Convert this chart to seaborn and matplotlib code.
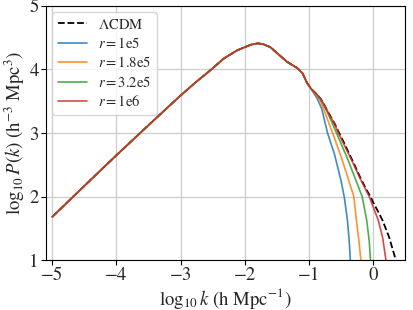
import numpy as np
import pandas as pd
import matplotlib
matplotlib.use("Agg")
import matplotlib.pyplot as plt
import seaborn as sns

sns.set_style("whitegrid")
plt.rcParams['font.family'] = ['STIXGeneral', 'DejaVu Serif']
plt.rcParams['mathtext.fontset'] = 'stix'

# log10 k and log10 P(k)
lcdm_x = [-5.0, -4.6, -4.26, -4.0, -3.63, -3.3, -3.0, -2.75, -2.52, -2.33, -2.12,
          -2.0, -1.9, -1.8, -1.72, -1.6, -1.5, -1.42, -1.34, -1.26, -1.18, -1.1,
          -1.03, -0.97, -0.92, -0.87, -0.82, -0.77, -0.72, -0.6, -0.53, -0.45,
          -0.3, -0.2, -0.1, -0.04, 0.0, 0.08, 0.15, 0.25, 0.355, 0.38]
lcdm_y = [1.68, 2.07, 2.40, 2.65, 3.0, 3.31, 3.59, 3.81, 4.0, 4.17, 4.30,
          4.35, 4.39, 4.41, 4.40, 4.35, 4.26, 4.19, 4.12, 4.07, 4.02, 3.94,
          3.79, 3.70, 3.65, 3.60, 3.54, 3.46, 3.36, 3.15, 3.0, 2.84,
          2.52, 2.3, 2.1, 2.0, 1.91, 1.76, 1.62, 1.36, 1.0, 0.93]

# cutoff tails; before lcdm_x[head_n] every run follows LCDM
head_n = 24
tail_1e5_x = [-0.92, -0.87, -0.8, -0.71, -0.6, -0.5, -0.45, -0.4, -0.37, -0.355, -0.35]
tail_1e5_y = [3.62, 3.54, 3.38, 3.0, 2.66, 2.25, 2.0, 1.63, 1.28, 1.0, 0.9]
tail_18e5_x = [-0.92, -0.87, -0.82, -0.75, -0.63, -0.5, -0.4, -0.3, -0.26, -0.22, -0.19, -0.185]
tail_18e5_y = [3.64, 3.58, 3.5, 3.32, 3.0, 2.63, 2.32, 2.0, 1.63, 1.3, 1.0, 0.9]
tail_32e5_x = [-0.92, -0.87, -0.82, -0.77, -0.7, -0.57, -0.4, -0.3, -0.17, -0.1, -0.06, -0.04, -0.035]
tail_32e5_y = [3.65, 3.6, 3.53, 3.44, 3.3, 3.0, 2.6, 2.34, 2.0, 1.63, 1.3, 1.0, 0.9]
tail_1e6_x = [-0.92, -0.87, -0.82, -0.77, -0.72, -0.6, -0.54, -0.3, -0.2, -0.06, 0.08, 0.15, 0.2, 0.21]
tail_1e6_y = [3.65, 3.6, 3.54, 3.46, 3.36, 3.14, 3.0, 2.5, 2.28, 2.0, 1.63, 1.35, 1.0, 0.9]

runs = [('$r=$1e5', tail_1e5_x, tail_1e5_y, '#1f77b4'),
        ('$r=$1.8e5', tail_18e5_x, tail_18e5_y, '#ff7f0e'),
        ('$r=$3.2e5', tail_32e5_x, tail_32e5_y, '#2ca02c'),
        ('$r=$1e6', tail_1e6_x, tail_1e6_y, '#d62728')]

fig = plt.figure(figsize=(4.13, 3.10), dpi=100)
ax = fig.add_axes([0.111, 0.161, 0.870, 0.820])

df = pd.DataFrame({'x': lcdm_x, 'y': lcdm_y})
sns.lineplot(data=df, x='x', y='y', ax=ax, color='black', ls='--', lw=1.3,
             sort=False, label=r'$\Lambda$CDM')
for label, tx, ty, col in runs:
    d = pd.DataFrame({'x': lcdm_x[:head_n] + tx, 'y': lcdm_y[:head_n] + ty})
    sns.lineplot(data=d, x='x', y='y', ax=ax, color=col, lw=1.2, alpha=0.85,
                 sort=False, label=label)

ax.set_xlim(-5.1, 0.5)
ax.set_ylim(1, 5)
ax.set_xticks([-5, -4, -3, -2, -1, 0])
ax.set_yticks([1, 2, 3, 4, 5])
ax.set_xlabel(r'$\log_{10}k$ (h Mpc$^{-1}$)', fontsize=13.5, labelpad=1)
ax.set_ylabel(r'$\log_{10}P(k)$ (h$^{-3}$ Mpc$^{3}$)', fontsize=13.5, labelpad=2)
ax.tick_params(labelsize=13.5, length=3.5, width=0.8, direction='out', bottom=True, left=True,
               pad=1.5, color='black')
ax.grid(color='#cccccc', lw=0.9)
for s in ax.spines.values():
    s.set_color('black')
    s.set_linewidth(0.8)
ax.legend(loc='upper left', fontsize=10.5, frameon=True, borderaxespad=0.4,
          handlelength=2.0, labelspacing=0.3)

fig.savefig('out.png', dpi=100)
